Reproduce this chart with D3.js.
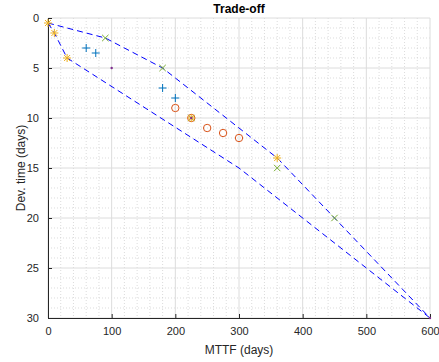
<!DOCTYPE html>
<html>
<head>
<meta charset="utf-8">
<script src="https://cdn.jsdelivr.net/npm/d3@7"></script>
<style>
  body { margin: 0; background: #fff; }
  svg { display: block; font-family: "Liberation Sans", Arial, sans-serif; }
</style>
</head>
<body>
<svg id="chart"></svg>
<script>
(function() {

  const title = 'Trade-off';
  const xLabel = 'MTTF (days)';
  const yLabel = 'Dev. time (days)';

  // dashed envelope
  const upperX = [0, 90, 180, 360, 450, 600];
  const upperY = [0.5, 2, 5, 14, 20, 30];
  const lowerX = [0, 10, 30, 300, 600];
  const lowerY = [0.5, 1.5, 4, 15, 30];

  // marker series
  const starX = [0, 10, 30, 225, 360];
  const starY = [0.5, 1.5, 4, 10, 14];
  const plusX = [60, 75, 180, 200];
  const plusY = [3, 3.5, 7, 8];
  const crossX = [90, 180, 225, 360, 450];
  const crossY = [2, 5, 10, 15, 20];
  const circleX = [200, 225, 250, 275, 300];
  const circleY = [9, 10, 11, 11.5, 12];
  const dotX = [100, 225, 600];
  const dotY = [5, 10, 30];

  const xTicks = [0, 100, 200, 300, 400, 500, 600];
  const yTicks = [0, 5, 10, 15, 20, 25, 30];

  const width = 439;
  const height = 362;
  const margin = { left: 48, right: 9, top: 18, bottom: 44 };
  const innerWidth = width - margin.left - margin.right;
  const innerHeight = height - margin.top - margin.bottom;

  const svg = d3.select('#chart')
    .attr('width', width)
    .attr('height', height);

  const g = svg.append('g')
    .attr('transform', 'translate(' + margin.left + ',' + margin.top + ')');

  const x = d3.scaleLinear().domain([0, 600]).range([0, innerWidth]);
  const y = d3.scaleLinear().domain([0, 30]).range([0, innerHeight]);

  // minor grid
  g.append('g').selectAll('line')
    .data(d3.range(0, 601, 20).filter(function(v) { return v % 100 !== 0; }))
    .enter().append('line')
    .attr('x1', function(d) { return x(d); })
    .attr('x2', function(d) { return x(d); })
    .attr('y1', 0).attr('y2', innerHeight)
    .attr('stroke', '#cdcdcd').attr('stroke-width', 0.7)
    .attr('stroke-dasharray', '1,2');
  g.append('g').selectAll('line')
    .data(d3.range(0, 31, 1).filter(function(v) { return v % 5 !== 0; }))
    .enter().append('line')
    .attr('y1', function(d) { return y(d); })
    .attr('y2', function(d) { return y(d); })
    .attr('x1', 0).attr('x2', innerWidth)
    .attr('stroke', '#cdcdcd').attr('stroke-width', 0.7)
    .attr('stroke-dasharray', '1,2');

  // major grid
  g.append('g').selectAll('line')
    .data(xTicks)
    .enter().append('line')
    .attr('x1', function(d) { return x(d); })
    .attr('x2', function(d) { return x(d); })
    .attr('y1', 0).attr('y2', innerHeight)
    .attr('stroke', '#dcdcdc').attr('stroke-width', 1);
  g.append('g').selectAll('line')
    .data(yTicks)
    .enter().append('line')
    .attr('y1', function(d) { return y(d); })
    .attr('y2', function(d) { return y(d); })
    .attr('x1', 0).attr('x2', innerWidth)
    .attr('stroke', '#dcdcdc').attr('stroke-width', 1);

  // axes
  const xAxis = d3.axisBottom(x).tickValues(xTicks).tickSizeInner(-4).tickSizeOuter(0).tickPadding(9);
  const yAxis = d3.axisLeft(y).tickValues(yTicks).tickSizeInner(-4).tickSizeOuter(0).tickPadding(9);

  const xg = g.append('g')
    .attr('transform', 'translate(0,' + innerHeight + ')')
    .call(xAxis);
  const yg = g.append('g').call(yAxis);

  [xg, yg].forEach(function(a) {
    a.selectAll('.domain').attr('stroke', '#262626');
    a.selectAll('.tick line').attr('stroke', '#262626');
    a.selectAll('.tick text')
      .attr('fill', '#262626')
      .style('font-size', '11px')
      .style('font-family', '"Liberation Sans", Arial, sans-serif');
  });

  // envelope lines
  const line = d3.line()
    .x(function(d) { return x(d[0]); })
    .y(function(d) { return y(d[1]); });

  [[upperX, upperY], [lowerX, lowerY]].forEach(function(s) {
    g.append('path')
      .datum(d3.zip(s[0], s[1]))
      .attr('d', line)
      .attr('fill', 'none')
      .attr('stroke', '#0000ff')
      .attr('stroke-width', 1)
      .attr('stroke-dasharray', '6,4');
  });

  const m = 4;

  // circles
  g.append('g').selectAll('circle')
    .data(d3.zip(circleX, circleY))
    .enter().append('circle')
    .attr('cx', function(d) { return x(d[0]); })
    .attr('cy', function(d) { return y(d[1]); })
    .attr('r', 3.7)
    .attr('fill', 'none')
    .attr('stroke', '#d95319')
    .attr('stroke-width', 1);

  // plus
  g.append('g').selectAll('path')
    .data(d3.zip(plusX, plusY))
    .enter().append('path')
    .attr('d', function(d) {
      const cx = x(d[0]), cy = y(d[1]);
      return 'M' + (cx - m) + ',' + cy + 'H' + (cx + m) + 'M' + cx + ',' + (cy - m) + 'V' + (cy + m);
    })
    .attr('stroke', '#0072bd')
    .attr('stroke-width', 1);

  // crosses
  g.append('g').selectAll('path')
    .data(d3.zip(crossX, crossY))
    .enter().append('path')
    .attr('d', function(d) {
      const cx = x(d[0]), cy = y(d[1]), k = m * 0.8;
      return 'M' + (cx - k) + ',' + (cy - k) + 'L' + (cx + k) + ',' + (cy + k) +
        'M' + (cx - k) + ',' + (cy + k) + 'L' + (cx + k) + ',' + (cy - k);
    })
    .attr('stroke', '#77ac30')
    .attr('stroke-width', 1);

  // stars
  g.append('g').selectAll('path')
    .data(d3.zip(starX, starY))
    .enter().append('path')
    .attr('d', function(d) {
      const cx = x(d[0]), cy = y(d[1]), k = m * 0.75;
      return 'M' + (cx - m) + ',' + cy + 'H' + (cx + m) + 'M' + cx + ',' + (cy - m) + 'V' + (cy + m) +
        'M' + (cx - k) + ',' + (cy - k) + 'L' + (cx + k) + ',' + (cy + k) +
        'M' + (cx - k) + ',' + (cy + k) + 'L' + (cx + k) + ',' + (cy - k);
    })
    .attr('stroke', '#edb120')
    .attr('stroke-width', 1);

  // dots
  g.append('g').selectAll('circle')
    .data(d3.zip(dotX, dotY))
    .enter().append('circle')
    .attr('cx', function(d) { return x(d[0]); })
    .attr('cy', function(d) { return y(d[1]); })
    .attr('r', 1.2)
    .attr('fill', '#7e2f8e');

  // labels
  svg.append('text')
    .attr('x', margin.left + innerWidth / 2)
    .attr('y', 13)
    .attr('text-anchor', 'middle')
    .style('font-size', '12px')
    .style('font-weight', 'bold')
    .attr('fill', '#000')
    .text(title);

  svg.append('text')
    .attr('x', margin.left + innerWidth / 2)
    .attr('y', 354)
    .attr('text-anchor', 'middle')
    .style('font-size', '12px')
    .attr('fill', '#262626')
    .text(xLabel);

  svg.append('text')
    .attr('transform', 'translate(25,' + (margin.top + innerHeight / 2) + ') rotate(-90)')
    .attr('text-anchor', 'middle')
    .style('font-size', '12px')
    .attr('fill', '#262626')
    .text(yLabel);

})();
</script>
</body>
</html>
